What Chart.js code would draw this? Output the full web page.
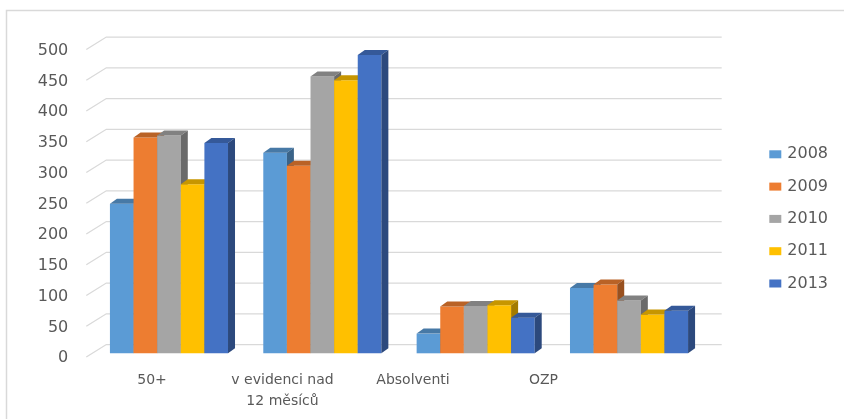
<!DOCTYPE html>
<html>
<head>
<meta charset="utf-8">
<script src="https://cdn.jsdelivr.net/npm/chart.js@4/dist/chart.umd.min.js"></script>
<style>
  html, body { margin: 0; padding: 0; background: #ffffff; }
  #wrap { position: relative; width: 844px; height: 419px; }
</style>
</head>
<body>
<div id="wrap"><canvas id="chart" width="844" height="419"></canvas></div>
<script>
// Groups of job seekers and counts per year
const categories = ['50+', ['v evidenci nad', '12 měsíců'], 'Absolventi', 'OZP'];
const years = ['2008', '2009', '2010', '2011', '2013'];
const values2008 = [243, 326, 32, 106];
const values2009 = [351, 305, 76, 112];
const values2010 = [354, 450, 77, 86];
const values2011 = [275, 444, 78, 63];
const values2013 = [342, 485, 58, 69];
const yTicks = [0, 50, 100, 150, 200, 250, 300, 350, 400, 450, 500];

const seriesValues = [values2008, values2009, values2010, values2011, values2013];
const seriesColors = ['#5B9BD5', '#ED7D31', '#A5A5A5', '#FFC000', '#4472C4'];

const TEXT = '#595959';
const GRID = '#d9d9d9';

// depth of a single bar (oblique projection) and of the whole floor
const BAR_DX = 7, BAR_DY = -5;
const FLOOR_FRONT = { dx: -6, dy: 3.75 };
const WALL_BACK = { dx: 14, dy: -8.75 };

// range of the label axis, so that category labels sit on the floor's front edge
const LABEL_MIN = -0.4575, LABEL_MAX = 4.243;

function shade(hex, f) {
  const n = parseInt(hex.slice(1), 16);
  const r = Math.round(((n >> 16) & 255) * f);
  const g = Math.round(((n >> 8) & 255) * f);
  const b = Math.round((n & 255) * f);
  return `rgb(${r},${g},${b})`;
}

// outer frame of the chart object
const frame = {
  id: 'frame',
  beforeDraw(chart) {
    const ctx = chart.ctx;
    ctx.save();
    ctx.strokeStyle = GRID;
    ctx.lineWidth = 1.5;
    ctx.beginPath();
    ctx.moveTo(6.5, chart.height);
    ctx.lineTo(6.5, 10.5);
    ctx.lineTo(chart.width, 10.5);
    ctx.stroke();
    ctx.restore();
  }
};

// side-wall diagonals and back-wall gridlines
const walls = {
  id: 'walls',
  beforeDatasetsDraw(chart) {
    const { ctx, chartArea: a } = chart;
    const y = chart.scales.y;
    ctx.save();
    ctx.strokeStyle = GRID;
    ctx.lineWidth = 1.3;
    yTicks.forEach(v => {
      const py = y.getPixelForValue(v);
      ctx.beginPath();
      ctx.moveTo(a.left + FLOOR_FRONT.dx, py + FLOOR_FRONT.dy);
      ctx.lineTo(a.left + WALL_BACK.dx, py + WALL_BACK.dy);
      ctx.lineTo(a.right + WALL_BACK.dx + 2, py + WALL_BACK.dy);
      ctx.stroke();
    });
    ctx.restore();
  }
};

// bars drawn left to right within each group (series order), each with its
// front face followed by its top and side faces, so the next series covers
// the previous side face
const bar3d = {
  id: 'bar3d',
  beforeDatasetDraw() { return false; },
  afterDatasetsDraw(chart) {
    const ctx = chart.ctx;
    chart.data.datasets.forEach((ds, di) => {
      const meta = chart.getDatasetMeta(di);
      meta.data.forEach(bar => {
        bar.draw(ctx);
        const { x, y, base, width } = bar.getProps(['x', 'y', 'base', 'width'], true);
        const l = x - width / 2, r = x + width / 2;
        ctx.save();
        ctx.fillStyle = shade(ds.backgroundColor, 0.78);
        ctx.beginPath();
        ctx.moveTo(l, y);
        ctx.lineTo(l + BAR_DX, y + BAR_DY);
        ctx.lineTo(r + BAR_DX, y + BAR_DY);
        ctx.lineTo(r, y);
        ctx.closePath();
        ctx.fill();
        ctx.fillStyle = shade(ds.backgroundColor, 0.64);
        ctx.beginPath();
        ctx.moveTo(r, y);
        ctx.lineTo(r + BAR_DX, y + BAR_DY);
        ctx.lineTo(r + BAR_DX, base + BAR_DY);
        ctx.lineTo(r, base);
        ctx.closePath();
        ctx.fill();
        ctx.restore();
      });
    });
  }
};

// legend on the right
const sideLegend = {
  id: 'sideLegend',
  afterDraw(chart) {
    const ctx = chart.ctx;
    const a = chart.chartArea;
    const x0 = a.right + 63.6, y0 = 154.3, step = 32.3;
    ctx.save();
    ctx.font = '16px "DejaVu Sans"';
    ctx.textBaseline = 'middle';
    ctx.textAlign = 'left';
    chart.data.datasets.forEach((ds, i) => {
      const cy = y0 + i * step;
      ctx.fillStyle = ds.backgroundColor;
      ctx.fillRect(x0, cy - 4, 12, 8);
      ctx.fillStyle = TEXT;
      ctx.fillText(ds.label, x0 + 18, cy);
    });
    ctx.restore();
  }
};

new Chart(document.getElementById('chart'), {
  type: 'bar',
  data: {
    labels: categories,
    datasets: years.map((yr, i) => ({
      label: yr,
      data: seriesValues[i],
      backgroundColor: seriesColors[i],
      borderWidth: 0,
      categoryPercentage: 0.77,
      barPercentage: 1.0
    }))
  },
  options: {
    responsive: false,
    devicePixelRatio: 1,
    animation: false,
    layout: { padding: { top: 45.8, right: 138.3, left: 0, bottom: 0 } },
    plugins: {
      legend: { display: false },
      tooltip: { enabled: false },
      title: { display: false }
    },
    scales: {
      x: {
        type: 'category',
        display: false,
        offset: true
      },
      xl: {
        type: 'linear',
        position: 'bottom',
        offset: false,
        bounds: 'data',
        min: LABEL_MIN,
        max: LABEL_MAX,
        grid: { display: false, drawTicks: false, offset: false },
        border: { display: false },
        afterDataLimits: s => { s.min = LABEL_MIN; s.max = LABEL_MAX; },
        afterBuildTicks: s => { s.ticks = categories.map((c, i) => ({ value: i })); },
        afterFit: s => { s.height = 65.7; },
        ticks: {
          autoSkip: false,
          maxRotation: 0,
          padding: 16.7,
          color: TEXT,
          font: { family: '"DejaVu Sans"', size: 14, lineHeight: 1.5 },
          callback: v => categories[v]
        }
      },
      y: {
        min: 0,
        max: 500,
        grid: { display: false, drawTicks: false },
        border: { display: false },
        afterFit: s => { s.width = 92.3; },
        ticks: {
          stepSize: 50,
          padding: 24,
          labelOffset: 5,
          color: TEXT,
          font: { family: '"DejaVu Sans"', size: 16 }
        }
      }
    }
  },
  plugins: [frame, walls, bar3d, sideLegend]
});
</script>
</body>
</html>
